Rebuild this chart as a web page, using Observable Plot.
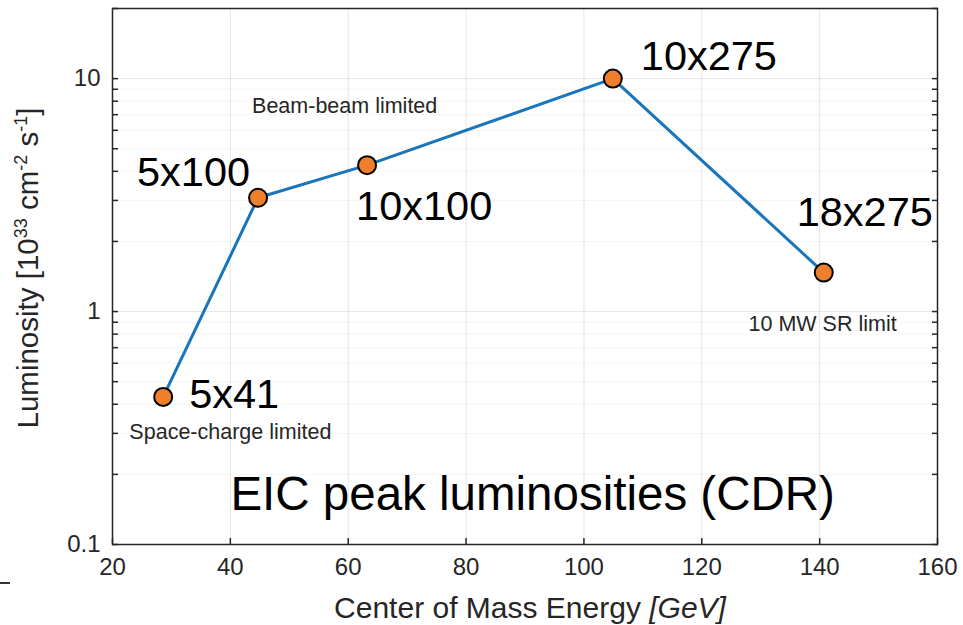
<!DOCTYPE html>
<html><head><meta charset="utf-8">
<script src="https://cdn.jsdelivr.net/npm/d3@7"></script>
<script src="https://cdn.jsdelivr.net/npm/@observablehq/plot@0.6"></script>
<style>
body{margin:0;background:#fff;}
#chart{position:relative;width:963px;height:625px;overflow:hidden;}
#stray{position:absolute;left:0;top:582px;width:10px;height:1.5px;background:#333;}
</style></head><body><div id="chart"><div id="stray"></div></div>
<script>
// data
const labels = ["5x41", "5x100", "10x100", "10x275", "18x275"];
const energy = [28.6, 44.7, 63.2, 104.9, 140.7];
const lumi = [0.43, 3.08, 4.25, 10.0, 1.47];
const xTicks = [20, 40, 60, 80, 100, 120, 140, 160];
const yMajor = [0.1, 1, 10];
const yMinor = [0.2, 0.3, 0.4, 0.5, 0.6, 0.7, 0.8, 0.9, 2, 3, 4, 5, 6, 7, 8, 9, 20];
const notes = ["Beam-beam limited", "Space-charge limited", "10 MW SR limit"];
const noteX = [59.4, 40, 140.5];
const noteY = [7.6, 0.305, 0.88];
const titleText = ["EIC peak luminosities (CDR)"];
const titleX = [91.3];
const titleY = [0.164];

// label placement (style)
const labelDx = [26, -8, -11, 28, 41];
const labelDy = [-2, -25, 42, -22, -60];
const labelAnchor = ["start", "end", "start", "start", "middle"];

const idx = labels.map((_, i) => i);
const noteIdx = notes.map((_, i) => i);
const FONT = "'Liberation Sans', Arial, Helvetica, sans-serif";
const INK = "#262626";

const plot = Plot.plot({
  width: 963,
  height: 625,
  marginLeft: 112,
  marginRight: 26,
  marginTop: 8,
  marginBottom: 81,
  style: {fontFamily: FONT, background: "white", color: INK},
  x: {type: "linear", domain: [20, 160]},
  y: {type: "log", domain: [0.1, 20]},
  marks: [
    Plot.ruleY(yMinor, {stroke: "#000", strokeOpacity: 0.045, strokeWidth: 1}),
    Plot.ruleY(yMajor, {stroke: "#000", strokeOpacity: 0.1, strokeWidth: 1}),
    Plot.ruleX(xTicks, {stroke: "#000", strokeOpacity: 0.1, strokeWidth: 1}),
    Plot.axisX(xTicks, {tickSize: 0, tickPadding: 13, fontSize: 24, fill: INK, label: null, tickFormat: d => String(d)}),
    Plot.axisX(xTicks, {tickSize: -6, tickFormat: () => "", label: null, stroke: INK, strokeWidth: 1.5}),
    Plot.axisY(yMajor, {tickSize: 0, tickPadding: 12, fontSize: 24, fill: INK, label: null, tickFormat: d => String(d)}),
    Plot.axisY([...yMajor, ...yMinor], {tickSize: -6, tickFormat: () => "", label: null, stroke: INK, strokeWidth: 1.5}),
    Plot.axisY([...yMajor, ...yMinor], {anchor: "right", tickSize: -6, tickFormat: () => "", label: null, stroke: INK, strokeWidth: 1.5}),
    Plot.frame({stroke: INK, strokeWidth: 1.5}),
    Plot.text(noteIdx, {x: i => noteX[i], y: i => noteY[i], text: i => notes[i], fontSize: 21.5, fill: INK}),
    Plot.text([0], {x: () => titleX[0], y: () => titleY[0], text: () => titleText[0], fontSize: 47.5, fill: "#000"}),
    Plot.line(idx, {x: i => energy[i], y: i => lumi[i], stroke: "#1a75bb", strokeWidth: 3}),
    Plot.dot(idx, {x: i => energy[i], y: i => lumi[i], r: 9, fill: "#ef7f2a", stroke: "#000", strokeWidth: 2, fillOpacity: 1}),
    ...idx.map(i => Plot.text([i], {x: d => energy[d], y: d => lumi[d], text: d => labels[d], dx: labelDx[i], dy: labelDy[i], textAnchor: labelAnchor[i], fontSize: 41.5, fill: "#000"}))
  ]
});

document.getElementById("chart").appendChild(plot);

const svg = d3.select(plot);
// y-axis label with superscripts
const yl = svg.append("text")
  .attr("transform", "translate(38,268) rotate(-90)")
  .attr("text-anchor", "middle")
  .attr("font-size", 29.5)
  .attr("fill", INK)
  .attr("font-family", FONT);
const yParts = [["Luminosity [10", false], ["33", true], [" cm", false], ["-2", true], [" s", false], ["-1", true], ["]", false]];
yParts.forEach(([t, sup], k) => {
  const ts = yl.append("tspan").text(t);
  if (sup) ts.attr("font-size", 18).attr("dy", -11);
  else if (k > 0) ts.attr("dy", 11);
});
// x-axis label with italic unit
const xl = svg.append("text")
  .attr("x", 530).attr("y", 618)
  .attr("text-anchor", "middle")
  .attr("font-size", 30)
  .attr("fill", INK)
  .attr("font-family", FONT);
xl.append("tspan").text("Center of Mass Energy ");
xl.append("tspan").attr("font-style", "italic").text("[GeV]");
</script>
</body></html>
